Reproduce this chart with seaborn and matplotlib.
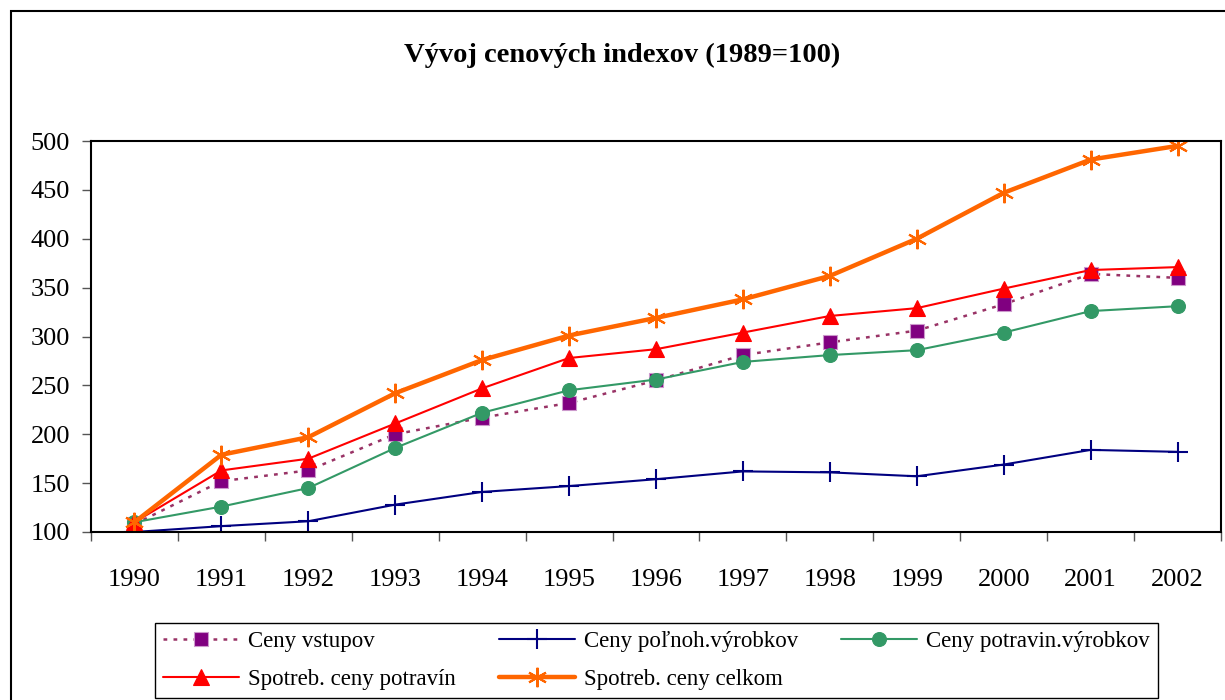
import numpy as np
import pandas as pd
import matplotlib
matplotlib.use("Agg")
import matplotlib.pyplot as plt
from matplotlib.patches import Rectangle
import seaborn as sns

years = ["1990", "1991", "1992", "1993", "1994", "1995", "1996",
         "1997", "1998", "1999", "2000", "2001", "2002"]

ceny_vstupov = [108, 152, 163, 200, 217, 232, 255, 281, 294, 306, 333, 364, 360]
ceny_polnoh = [100, 106, 111, 128, 141, 147, 154, 162, 161, 157, 169, 184, 182]
ceny_potravin_vyr = [110, 126, 145, 186, 222, 245, 256, 274, 281, 286, 304, 326, 331]
spotreb_potravin = [110, 163, 175, 211, 247, 278, 287, 304, 321, 329, 349, 368, 371]
spotreb_celkom = [110, 179, 197, 242, 276, 301, 319, 338, 362, 400, 447, 481, 495]

labels = ["Ceny vstupov", "Ceny poľnoh.výrobkov", "Ceny potravin.výrobkov",
          "Spotreb. ceny potravín", "Spotreb. ceny celkom"]

sns.set_style("white")
plt.rcParams["font.family"] = ["Liberation Serif", "DejaVu Serif"]
plt.rcParams["text.color"] = "black"
plt.rcParams["xtick.color"] = "black"
plt.rcParams["ytick.color"] = "black"

fig = plt.figure(figsize=(12.25, 7), dpi=100)
ax = fig.add_axes([91 / 1225, 1 - 532 / 700, 1130 / 1225, 391 / 700])

x = np.arange(len(years))

# each series drawn separately so every one gets its own marker / style
sns.lineplot(x=x, y=ceny_vstupov, ax=ax, label=labels[0], color="#993366",
             linewidth=1.8, linestyle=(0, (1.5, 2.5)), marker="s", markersize=10,
             markerfacecolor="#800080", markeredgecolor="#CC99CC", markeredgewidth=0.8)
sns.lineplot(x=x, y=ceny_polnoh, ax=ax, label=labels[1], color="#000080",
             linewidth=1.5, marker="+", markersize=14,
             markeredgecolor="#000080", markeredgewidth=1.5)
sns.lineplot(x=x, y=ceny_potravin_vyr, ax=ax, label=labels[2], color="#339966",
             linewidth=1.5, marker="o", markersize=10,
             markerfacecolor="#339966", markeredgecolor="#339966", markeredgewidth=0.8)
sns.lineplot(x=x, y=spotreb_potravin, ax=ax, label=labels[3], color="#FF0000",
             linewidth=1.5, marker="^", markersize=11.5,
             markerfacecolor="#FF0000", markeredgecolor="#FF0000", markeredgewidth=0.8)
sns.lineplot(x=x, y=spotreb_celkom, ax=ax, label=labels[4], color="#FF6600",
             linewidth=3.2, marker=(6, 2, 0), markersize=14,
             markeredgecolor="#FF6600", markeredgewidth=1.5)

ax.set_xlim(-0.5, len(years) - 0.5)
ax.set_ylim(100, 500)
ax.set_yticks(np.arange(100, 501, 50))
ax.tick_params(axis="y", direction="out", length=6.5, width=1, color="#555555",
               labelcolor="black", labelsize=19, pad=8.5, left=True)

# category axis: ticks between categories, labels centred on them
ax.set_xticks(np.arange(-0.5, len(years), 1))
ax.set_xticklabels([])
ax.set_xticks(x, minor=True)
ax.set_xticklabels(years, minor=True)
ax.tick_params(axis="x", which="major", direction="out", length=6.5, width=1,
               color="#555555", bottom=True)
ax.tick_params(axis="x", which="minor", length=0, labelsize=19, labelcolor="black",
               pad=27, bottom=True)

for s in ax.spines.values():
    s.set_visible(True)
    s.set_color("black")
    s.set_linewidth(1.5)

ax.set_xlabel("")
ax.set_ylabel("")
ax.get_legend().remove()

fig.text(0.508, 1 - 55 / 700, "Vývoj cenových indexov (1989=100)", ha="center",
         va="center", fontsize=20.5, fontweight="bold", color="black")

handles, lbls = ax.get_legend_handles_labels()
order = [0, 3, 1, 4, 2]
leg = fig.legend([handles[i] for i in order], [lbls[i] for i in order], ncol=3,
                 loc="lower left", mode="expand",
                 bbox_to_anchor=(155 / 1225, 2 / 700, 1003 / 1225, 81 / 700),
                 frameon=True, fancybox=False, edgecolor="black", framealpha=1,
                 fontsize=16.5, handlelength=3.3, handletextpad=0.4, labelspacing=0.75,
                 borderaxespad=0, borderpad=0.35, columnspacing=0.8,
                 labelcolor="black")
leg.get_frame().set_linewidth(1)

fig.patches.append(Rectangle((11 / 1225, -0.1), 1.2, 1.1 - 11 / 700,
                             transform=fig.transFigure, fill=False,
                             edgecolor="black", linewidth=1.5))

plt.savefig("out.png", dpi=100)
plt.close()
